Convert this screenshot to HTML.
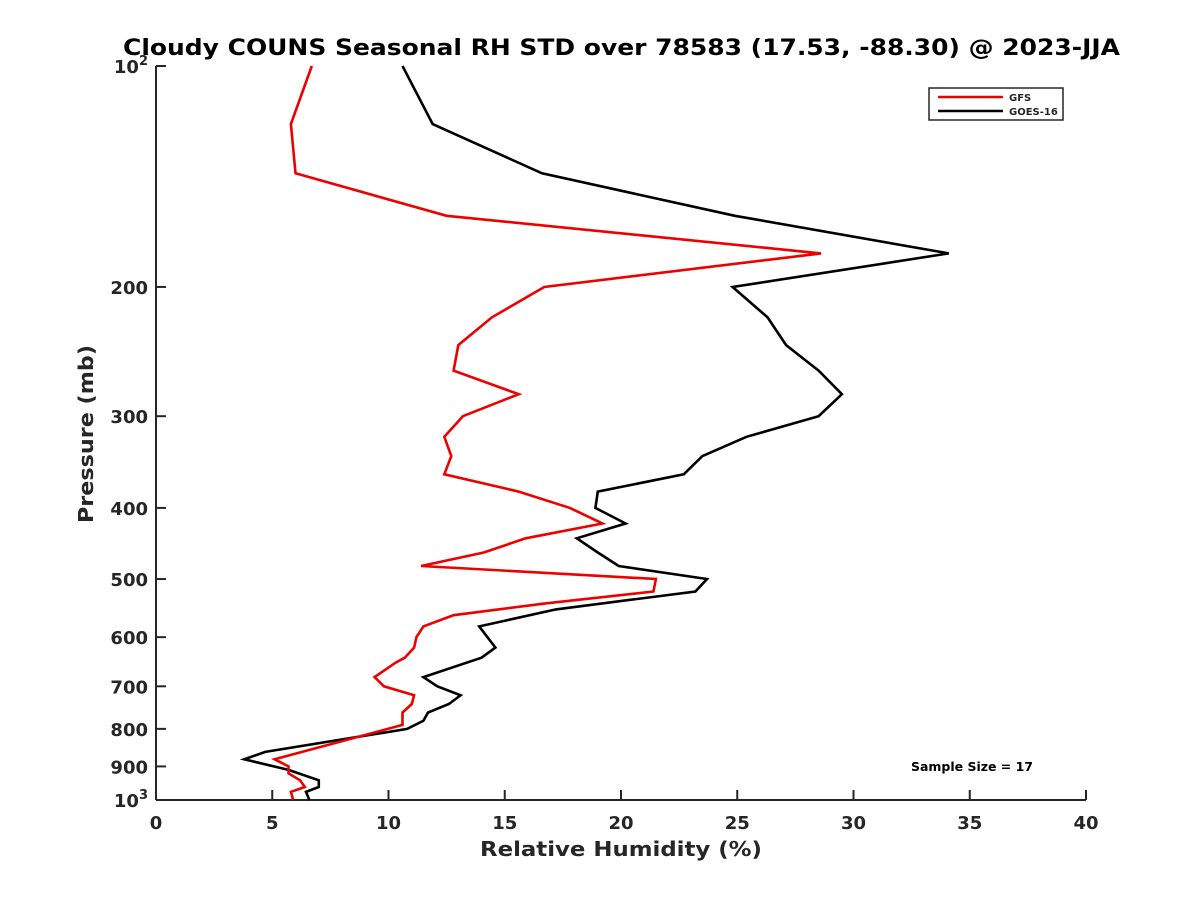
<!DOCTYPE html>
<html><head><meta charset="utf-8"><style>
body{margin:0;background:#fff;}
svg text{font-family:"DejaVu Sans","Liberation Sans",sans-serif;font-weight:bold;fill:#262626;}
</style></head><body>
<svg id="chart" width="1200" height="900" xmlns="http://www.w3.org/2000/svg">
<rect width="1200" height="900" fill="#fff"/>
<text x="123" y="55" font-size="22" textLength="997" lengthAdjust="spacingAndGlyphs" style="fill:#000">Cloudy COUNS Seasonal RH STD over 78583 (17.53, -88.30) @ 2023-JJA</text>
<g id="axes"></g>
<g id="series"></g>
<text x="480" y="856" font-size="20" textLength="282" lengthAdjust="spacingAndGlyphs">Relative Humidity (%)</text>
<text x="0" y="0" font-size="20" textLength="178" lengthAdjust="spacingAndGlyphs" transform="translate(93,523) rotate(-90)">Pressure (mb)</text>
<g>
<rect x="929" y="88" width="134" height="32" fill="#fff" stroke="#262626" stroke-width="1.5"/>
<line x1="938" y1="97" x2="1003" y2="97" stroke="#e00" stroke-width="2.5"/>
<text x="1009" y="101" font-size="10">GFS</text>
<line x1="938" y1="111" x2="1003" y2="111" stroke="#000" stroke-width="2.5"/>
<text x="1009" y="115" font-size="10">GOES-16</text>
</g>
<text x="911" y="771" font-size="12" textLength="122" lengthAdjust="spacingAndGlyphs" style="fill:#000">Sample Size = 17</text>
</svg>
<script>
const xTicks=[0,5,10,15,20,25,30,35,40];
const yTicks=[100,200,300,400,500,600,700,800,900,1000];
const goesP=[100,120,140,160,180,200,220,240,260,280,300,320,340,360,380,400,420,440,460,480,500,520,550,580,620,640,680,700,720,740,760,780,800,860,880,910,940,960,975,1000];
const goesRH=[10.6,11.9,16.6,24.9,34.1,24.8,26.3,27.1,28.5,29.5,28.5,25.4,23.5,22.7,19.0,18.9,20.2,18.1,19.0,19.9,23.7,23.2,17.2,13.9,14.6,14.0,11.5,12.1,13.1,12.6,11.7,11.5,10.8,4.7,3.8,5.7,7.0,7.0,6.45,6.6];
const gfsP=[100,120,140,160,180,200,220,240,260,280,300,320,340,360,380,400,420,440,460,480,500,520,540,560,580,600,620,640,650,680,700,720,740,760,790,880,900,920,940,960,975,1000];
const gfsRH=[6.7,5.8,6.0,12.5,28.6,16.7,14.45,13.0,12.8,15.6,13.2,12.4,12.7,12.4,15.6,17.8,19.2,15.9,14.1,11.4,21.5,21.4,16.7,12.8,11.5,11.2,11.1,10.7,10.3,9.4,9.8,11.1,11.0,10.6,10.6,5.1,5.7,5.7,6.2,6.4,5.8,5.9];
const NS="http://www.w3.org/2000/svg";
const X0=156,X1=1086,Y0=66,Y1=800;
function xs(v){return X0+(v/40)*(X1-X0);}
function ys(p){return Y0+(Math.log10(p)-2)*(Y1-Y0);}
function mk(t,a,parent){const e=document.createElementNS(NS,t);for(const k in a)e.setAttribute(k,a[k]);parent.appendChild(e);return e;}
const ax=document.getElementById('axes');
let l=mk('line',{x1:X0,y1:Y0,x2:X0,y2:Y1,stroke:'#262626','stroke-width':2},ax);


l=mk('line',{x1:X0,y1:Y1,x2:X1,y2:Y1,stroke:'#262626','stroke-width':2},ax);


xTicks.forEach(v=>{
 const t=mk('line',{x1:xs(v),y1:Y1,x2:xs(v),y2:Y1-10,stroke:'#262626','stroke-width':2},ax);
 
 
 const tx=mk('text',{x:xs(v),y:Y1+29,'font-size':18,'text-anchor':'middle'},ax);
 tx.textContent=v;
 
 
});
yTicks.forEach(p=>{
 const y=ys(p);
 const t=mk('line',{x1:X0,y1:y,x2:X0+10,y2:y,stroke:'#262626','stroke-width':2},ax);
 
 
 const tx=mk('text',{x:X0-8,y:y+7,'font-size':18,'text-anchor':'end'},ax);
 
 
 if(p===100||p===1000){tx.innerHTML='10<tspan dy="-8" font-size="13">'+(p===100?2:3)+'</tspan>';}
 else tx.textContent=p;
});
const sg=document.getElementById('series');
function line(P,V,col,name){
 const pts=P.map((p,i)=>xs(V[i]).toFixed(1)+','+ys(p).toFixed(1)).join(' ');
 const e=mk('polyline',{points:pts,fill:'none',stroke:col,'stroke-width':2.6,'stroke-linejoin':'miter'},sg);
 
 
}
line(goesP,goesRH,'#000','goes16-line');
line(gfsP,gfsRH,'#e00','gfs-line');
</script>
</body></html>
